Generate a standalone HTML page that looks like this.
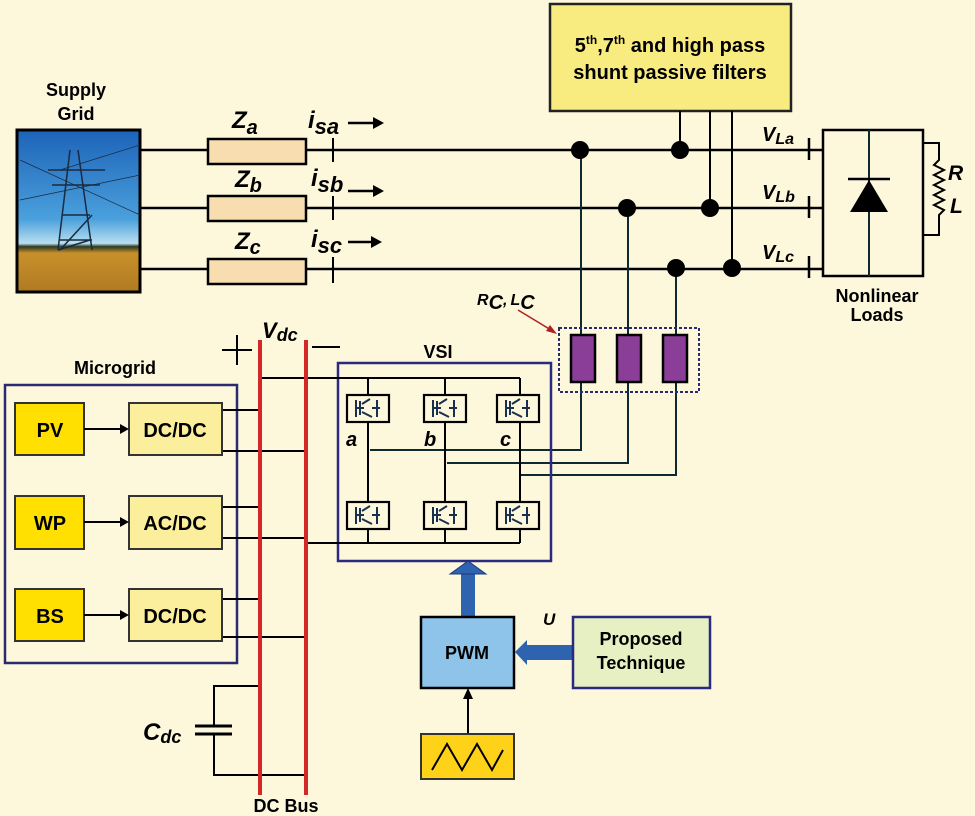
<!DOCTYPE html>
<html><head><meta charset="utf-8"><style>
html,body{margin:0;padding:0;background:#FDF8DC;}
svg{display:block;}
text{font-family:"Liberation Sans",Arial,sans-serif;}
.b{font-weight:bold;}
</style></head><body>
<svg width="975" height="816" viewBox="0 0 975 816" xmlns="http://www.w3.org/2000/svg">
<defs>
<linearGradient id="sky" x1="0" y1="0" x2="0" y2="1">
<stop offset="0" stop-color="#1d63b8"/><stop offset="0.55" stop-color="#4aa0dc"/><stop offset="0.7" stop-color="#b9dff0"/>
<stop offset="0.72" stop-color="#2c3a20"/><stop offset="0.76" stop-color="#c8902a"/><stop offset="1" stop-color="#b07a22"/></linearGradient>
</defs>
<rect width="975" height="816" fill="#FDF8DC"/>

<text x="76" y="96" font-size="18" class="b" text-anchor="middle">Supply</text>
<text x="76" y="120" font-size="18" class="b" text-anchor="middle">Grid</text>
<rect x="17" y="130" width="123" height="162" fill="url(#sky)" stroke="#000" stroke-width="3"/>
<g stroke="#1a2a40" stroke-width="1.5" fill="none">
<path d="M70 150 L58 250 M78 150 L92 250 M66 185 L86 185 M62 215 L90 215 M60 240 L92 240 M60 250 L92 215 M58 250 L90 240 M48 170 L105 170 M52 185 L100 185"/>
<path d="M20 160 L140 215 M20 200 L140 175 M60 170 L140 145" stroke-width="0.7"/>
</g>

<g stroke="#000" stroke-width="2.5" fill="none">
<line x1="140" y1="150" x2="823" y2="150"/>
<line x1="140" y1="208" x2="823" y2="208"/>
<line x1="140" y1="269" x2="823" y2="269"/>
</g>
<g fill="#F7DDB0" stroke="#000" stroke-width="2.5">
<rect x="208" y="139" width="98" height="25"/>
<rect x="208" y="196" width="98" height="25"/>
<rect x="208" y="259" width="98" height="25"/>
</g>
<g stroke="#000" stroke-width="2">
<line x1="333" y1="138" x2="333" y2="162"/>
<line x1="333" y1="196" x2="333" y2="220"/>
<line x1="333" y1="257" x2="333" y2="283"/>
</g>
<g font-style="italic" font-size="24" class="b">
<text x="232" y="128">Z<tspan font-size="20" dy="6">a</tspan></text>
<text x="235" y="187">Z<tspan font-size="20" dy="5">b</tspan></text>
<text x="235" y="249">Z<tspan font-size="20" dy="5">c</tspan></text>
<text x="308" y="128">i<tspan font-size="22" dy="6">sa</tspan></text>
<text x="311" y="186">i<tspan font-size="22" dy="6">sb</tspan></text>
<text x="311" y="247">i<tspan font-size="22" dy="6">sc</tspan></text>
</g>
<g stroke="#000" stroke-width="2.5"><line x1="348" y1="123" x2="378" y2="123"/><line x1="348" y1="191" x2="378" y2="191"/><line x1="348" y1="242" x2="376" y2="242"/></g>
<g fill="#000"><path d="M384 123 L373 117 L373 129Z"/><path d="M384 191 L373 185 L373 197Z"/><path d="M382 242 L371 236 L371 248Z"/></g>

<rect x="550" y="4" width="241" height="107" fill="#F8EC80" stroke="#222" stroke-width="2.5"/>
<text x="670" y="52" font-size="20" class="b" text-anchor="middle">5<tspan font-size="12" dy="-8">th</tspan><tspan dy="8">,7</tspan><tspan font-size="12" dy="-8">th</tspan><tspan dy="8"> and high pass</tspan></text>
<text x="670" y="79" font-size="20" class="b" text-anchor="middle">shunt passive filters</text>
<g stroke="#000" stroke-width="2">
<line x1="680" y1="111" x2="680" y2="150"/>
<line x1="710" y1="111" x2="710" y2="208"/>
<line x1="732" y1="111" x2="732" y2="269"/>
</g>

<g stroke="#0c2a30" stroke-width="2" fill="none">
<polyline points="581,150 581,450 370,450"/>
<polyline points="628,208 628,463 447,463"/>
<polyline points="676,269 676,475 519,475"/>
</g>
<g fill="#000">
<circle cx="580" cy="150" r="9"/><circle cx="680" cy="150" r="9"/>
<circle cx="627" cy="208" r="9"/><circle cx="710" cy="208" r="9"/>
<circle cx="676" cy="268" r="9"/><circle cx="732" cy="268" r="9"/>
</g>

<g font-style="italic" font-size="20" class="b">
<text x="762" y="141">V<tspan font-size="16" dy="3">La</tspan></text>
<text x="762" y="199">V<tspan font-size="16" dy="3">Lb</tspan></text>
<text x="762" y="259">V<tspan font-size="16" dy="3">Lc</tspan></text>
</g>
<g stroke="#000" stroke-width="2.5">
<line x1="809" y1="138" x2="809" y2="160"/><line x1="809" y1="196" x2="809" y2="218"/><line x1="809" y1="256" x2="809" y2="278"/>
</g>

<rect x="823" y="130" width="100" height="146" fill="none" stroke="#000" stroke-width="2.5"/>
<line x1="869" y1="130" x2="869" y2="276" stroke="#0c2a30" stroke-width="2"/>
<line x1="848" y1="179" x2="890" y2="179" stroke="#000" stroke-width="2.5"/>
<path d="M869 180 L850 212 L888 212Z" fill="#000"/>
<polyline points="923,143 939,143 939,160 934,165 944,170 934,175 944,180 934,185 944,190 934,195 944,200 934,205 944,210 939,215 939,235 923,235" fill="none" stroke="#000" stroke-width="2"/>
<text x="948" y="180" font-size="21" font-style="italic" class="b">R</text>
<text x="950" y="213" font-size="21" font-style="italic" class="b">L</text>
<text x="877" y="302" font-size="18" class="b" text-anchor="middle">Nonlinear</text>
<text x="877" y="321" font-size="18" class="b" text-anchor="middle">Loads</text>

<text x="477" y="305" font-size="16" font-style="italic" class="b">R<tspan dy="4" font-size="20">C</tspan><tspan dy="-4">,</tspan><tspan font-size="16" dx="3">L</tspan><tspan dy="4" font-size="20">C</tspan></text>
<line x1="518" y1="310" x2="551" y2="330" stroke="#b02020" stroke-width="1.5"/>
<path d="M557 334 L546 331 L550 325Z" fill="#b02020"/>
<rect x="559" y="328" width="140" height="64" fill="none" stroke="#2a2a70" stroke-width="2" stroke-dasharray="3,2"/>
<g fill="#8A3E98" stroke="#000" stroke-width="2.5">
<rect x="571" y="335" width="24" height="47"/><rect x="617" y="335" width="24" height="47"/><rect x="663" y="335" width="24" height="47"/>
</g>

<g stroke="#000" stroke-width="2">
<line x1="222" y1="350" x2="252" y2="350"/><line x1="237" y1="335" x2="237" y2="365"/>
<line x1="312" y1="347" x2="340" y2="347"/>
</g>
<text x="262" y="338" font-size="22" font-style="italic" class="b">V<tspan font-size="18" dy="3">dc</tspan></text>

<text x="438" y="358" font-size="18" class="b" text-anchor="middle">VSI</text>
<rect x="338" y="363" width="213" height="198" fill="none" stroke="#2a2a80" stroke-width="2.5"/>
<g stroke="#000" stroke-width="2" fill="none">
<polyline points="260,378 520,378"/>
<line x1="368" y1="378" x2="368" y2="543"/>
<line x1="445" y1="378" x2="445" y2="543"/>
<line x1="520" y1="378" x2="520" y2="543"/>
<line x1="306" y1="543" x2="520" y2="543"/>
</g>
<g fill="#FDF8DC" stroke="#000" stroke-width="2.2">
<rect x="347" y="395" width="42" height="27"/><rect x="424" y="395" width="42" height="27"/><rect x="497" y="395" width="42" height="27"/>
<rect x="347" y="502" width="42" height="27"/><rect x="424" y="502" width="42" height="27"/><rect x="497" y="502" width="42" height="27"/>
</g>
<g stroke="#1a3050" stroke-width="2" fill="none">
<path d="M356 400 V417 M356 408 H364 M360 401 V415 M362 404 L370 399 M362 412 L372 417 M377 400 V417 M372 408 L380 408"/>
<path d="M433 400 V417 M433 408 H441 M437 401 V415 M439 404 L447 399 M439 412 L449 417 M454 400 V417 M449 408 L457 408"/>
<path d="M506 400 V417 M506 408 H514 M510 401 V415 M512 404 L520 399 M512 412 L522 417 M527 400 V417 M522 408 L530 408"/>
<path d="M356 507 V524 M356 515 H364 M360 508 V522 M362 511 L370 506 M362 519 L372 524 M377 507 V524 M372 515 L380 515"/>
<path d="M433 507 V524 M433 515 H441 M437 508 V522 M439 511 L447 506 M439 519 L449 524 M454 507 V524 M449 515 L457 515"/>
<path d="M506 507 V524 M506 515 H514 M510 508 V522 M512 511 L520 506 M512 519 L522 524 M527 507 V524 M522 515 L530 515"/>
</g>
<g font-style="italic" font-size="20" class="b">
<text x="346" y="446">a</text><text x="424" y="446">b</text><text x="500" y="446">c</text>
</g>

<text x="115" y="374" font-size="18" class="b" text-anchor="middle">Microgrid</text>
<rect x="5" y="385" width="232" height="278" fill="none" stroke="#2a2a70" stroke-width="2.5"/>
<g stroke="#000" stroke-width="2" fill="none">
<line x1="222" y1="410" x2="260" y2="410"/><line x1="222" y1="451" x2="306" y2="451"/>
<line x1="222" y1="507" x2="260" y2="507"/><line x1="222" y1="538" x2="306" y2="538"/>
<line x1="222" y1="599" x2="260" y2="599"/><line x1="222" y1="637" x2="306" y2="637"/>
<polyline points="260,686 214,686 214,726"/><polyline points="214,734 214,775 306,775"/>
<line x1="195" y1="726" x2="232" y2="726" stroke-width="3"/><line x1="195" y1="734" x2="232" y2="734" stroke-width="3"/>
</g>
<g stroke="#333" stroke-width="2">
<rect x="15" y="403" width="69" height="52" fill="#FFE000"/>
<rect x="15" y="496" width="69" height="53" fill="#FFE000"/>
<rect x="15" y="589" width="69" height="52" fill="#FFE000"/>
<rect x="129" y="403" width="93" height="52" fill="#FBEE9C"/>
<rect x="129" y="496" width="93" height="53" fill="#FBEE9C"/>
<rect x="129" y="589" width="93" height="52" fill="#FBEE9C"/>
</g>
<g font-size="20" class="b" text-anchor="middle">
<text x="50" y="437">PV</text><text x="50" y="530">WP</text><text x="50" y="623">BS</text>
<text x="175" y="437">DC/DC</text><text x="175" y="530">AC/DC</text><text x="175" y="623">DC/DC</text>
</g>
<g stroke="#000" stroke-width="2"><line x1="84" y1="429" x2="122" y2="429"/><line x1="84" y1="522" x2="122" y2="522"/><line x1="84" y1="615" x2="122" y2="615"/></g>
<g fill="#000"><path d="M129 429 L120 424 L120 434Z"/><path d="M129 522 L120 517 L120 527Z"/><path d="M129 615 L120 610 L120 620Z"/></g>
<text x="143" y="740" font-size="24" font-style="italic" class="b">C<tspan font-size="18" dy="3">dc</tspan></text>

<g stroke="#D42828" stroke-width="4"><line x1="260" y1="340" x2="260" y2="795"/><line x1="306" y1="340" x2="306" y2="795"/></g>
<text x="286" y="812" font-size="18" class="b" text-anchor="middle">DC Bus</text>

<rect x="461" y="572" width="14" height="45" fill="#2E63B0"/>
<path d="M450 574 L468 561 L486 574Z" fill="#2E63B0" stroke="#1a3a80" stroke-width="1"/>
<rect x="421" y="617" width="93" height="71" fill="#8EC4EA" stroke="#000" stroke-width="2.5"/>
<text x="467" y="659" font-size="18" class="b" text-anchor="middle">PWM</text>
<rect x="525" y="645" width="48" height="15" fill="#2E63B0"/>
<path d="M515 652 L527 640 L527 665Z" fill="#2E63B0"/>
<text x="543" y="625" font-size="17" font-style="italic" class="b">U</text>
<rect x="573" y="617" width="137" height="71" fill="#E6F0C2" stroke="#2a2a80" stroke-width="2.5"/>
<text x="641" y="645" font-size="18" class="b" text-anchor="middle">Proposed</text>
<text x="641" y="669" font-size="18" class="b" text-anchor="middle">Technique</text>
<line x1="468" y1="734" x2="468" y2="696" stroke="#000" stroke-width="2"/>
<path d="M468 688 L463 699 L473 699Z" fill="#000"/>
<rect x="421" y="734" width="93" height="45" fill="#FFD21A" stroke="#333" stroke-width="2"/>
<polyline points="432,770 447,744 462,770 477,744 492,770 503,750" fill="none" stroke="#000" stroke-width="2"/>
</svg>
</body></html>
